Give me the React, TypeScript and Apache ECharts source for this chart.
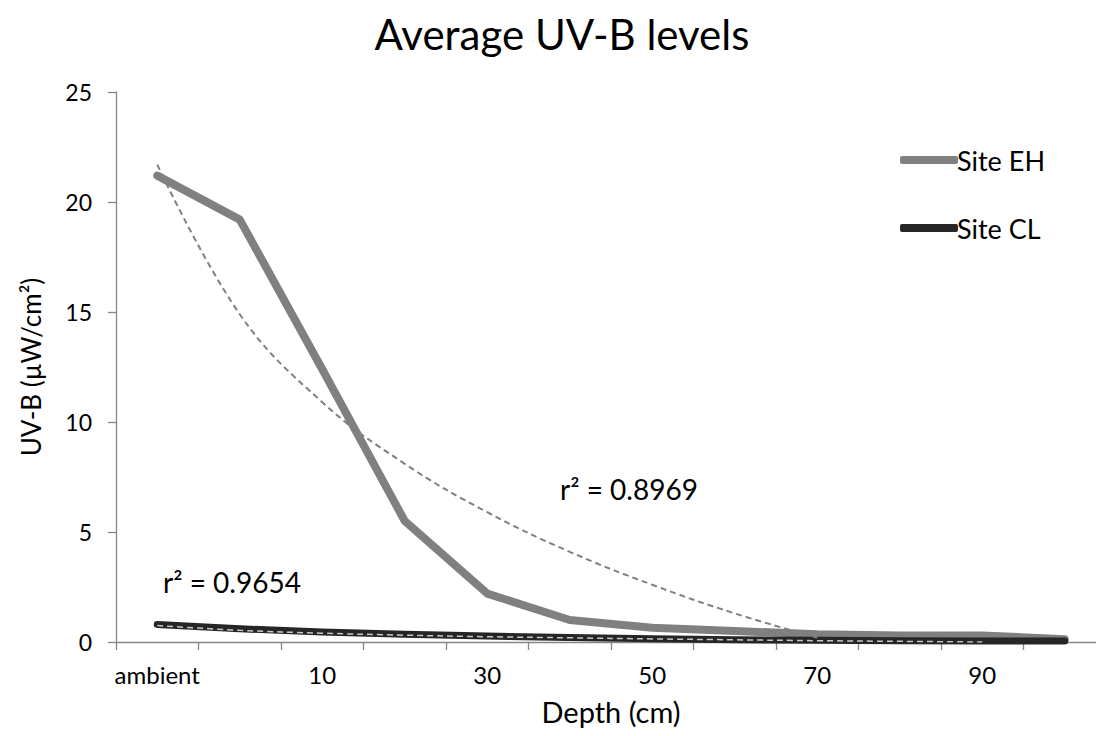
import React, { useEffect, useRef } from "react";
import * as echarts from "echarts";

// Depth categories along the x axis
const depths = ["ambient", "0", "10", "20", "30", "40", "50", "60", "70", "80", "90", "100"];

// Average UV-B (µW/cm²) per depth
const siteEH = [21.2, 19.2, 12.4, 5.5, 2.2, 1.0, 0.65, 0.5, 0.35, 0.3, 0.3, 0.12];
const siteCL = [0.8, 0.6, 0.45, 0.35, 0.27, 0.2, 0.15, 0.1, 0.08, 0.06, 0.05, 0.05];

// Logarithmic trend lines, sampled at each depth
const trendEH = [21.7, 14.9, 10.9, 8.1, 5.9, 4.1, 2.6, 1.3, 0.2];
const trendCL = [0.75, 0.53, 0.4, 0.31, 0.24, 0.19, 0.14, 0.1, 0.06, 0.03, 0.0];

// Fit quality labels
const r2EH = "r² = 0.8969";
const r2CL = "r² = 0.9654";

const FONT = "Lato, 'Open Sans', sans-serif";
const AXIS_COLOR = "#868686";

export default function App() {
  const ref = useRef<HTMLDivElement>(null);

  useEffect(() => {
    document.body.style.margin = "0";
    document.body.style.overflow = "hidden";
    const chart = echarts.init(ref.current!, null, { renderer: "svg" });
    chart.setOption({
      animation: false,
      backgroundColor: "#ffffff",
      textStyle: { fontFamily: FONT },
      title: {
        text: "Average UV-B levels",
        left: 557,
        top: 6,
        textAlign: "center",
        textStyle: { fontFamily: FONT, fontSize: 42, fontWeight: "normal", color: "#000", lineHeight: 46 },
      },
      legend: {
        data: ["Site EH", "Site CL"],
        orient: "vertical",
        left: 895,
        top: 140,
        itemWidth: 58,
        itemHeight: 8,
        itemGap: 38,
        icon: "roundRect",
        textStyle: { fontFamily: FONT, fontSize: 27, color: "#000", lineHeight: 30, padding: [0, 0, 0, -6] },
      },
      grid: { left: 116, right: 14, top: 92, bottom: 94, containLabel: false },
      xAxis: {
        type: "category",
        data: depths,
        boundaryGap: true,
        name: "Depth (cm)",
        nameLocation: "middle",
        nameGap: 52,
        nameTextStyle: { fontFamily: FONT, fontSize: 29, color: "#000", lineHeight: 34 },
        axisLine: { lineStyle: { color: AXIS_COLOR, width: 1.3 } },
        axisTick: { show: true, interval: 0, length: 8, lineStyle: { color: AXIS_COLOR, width: 1.3 } },
        axisLabel: { interval: 1, fontFamily: FONT, fontSize: 24, color: "#000", margin: 20 },
        splitLine: { show: false },
      },
      yAxis: {
        type: "value",
        min: 0,
        max: 25,
        interval: 5,
        name: "UV-B (µW/cm²)",
        nameLocation: "middle",
        nameGap: 72,
        nameTextStyle: { fontFamily: FONT, fontSize: 26, color: "#000" },
        axisLine: { show: true, lineStyle: { color: AXIS_COLOR, width: 1.3 } },
        axisTick: { show: true, length: 8, lineStyle: { color: AXIS_COLOR, width: 1.3 } },
        axisLabel: { fontFamily: FONT, fontSize: 23, color: "#000", margin: 24 },
        splitLine: { show: false },
      },
      series: [
        {
          name: "Site EH",
          type: "line",
          data: siteEH,
          symbol: "none",
          color: "#808080",
          lineStyle: { width: 8, color: "#808080", cap: "round", join: "round" },
          z: 2,
        },
        {
          name: "Site CL",
          type: "line",
          data: siteCL,
          symbol: "none",
          color: "#262626",
          lineStyle: { width: 7, color: "#262626", cap: "round", join: "round" },
          z: 3,
        },
        {
          name: "Trend EH",
          type: "line",
          data: trendEH,
          symbol: "none",
          smooth: 0.4,
          silent: true,
          lineStyle: { width: 2, color: "#808080", type: [6, 4] },
          z: 4,
        },
        {
          name: "Trend CL",
          type: "line",
          data: trendCL,
          symbol: "none",
          smooth: 0.4,
          silent: true,
          lineStyle: { width: 1.5, color: "#c8c8c8", type: [6, 4] },
          z: 5,
        },
      ],
      graphic: [
        {
          type: "text",
          x: 560,
          y: 489,
          style: { text: r2EH, font: `28px ${FONT}`, fill: "#000", align: "left", verticalAlign: "middle" },
        },
        {
          type: "text",
          x: 163,
          y: 582,
          style: { text: r2CL, font: `28px ${FONT}`, fill: "#000", align: "left", verticalAlign: "middle" },
        },
      ],
    });
    return () => chart.dispose();
  }, []);

  return <div ref={ref} style={{ position: "absolute", left: 0, top: 0, width: 1120, height: 736 }} />;
}
